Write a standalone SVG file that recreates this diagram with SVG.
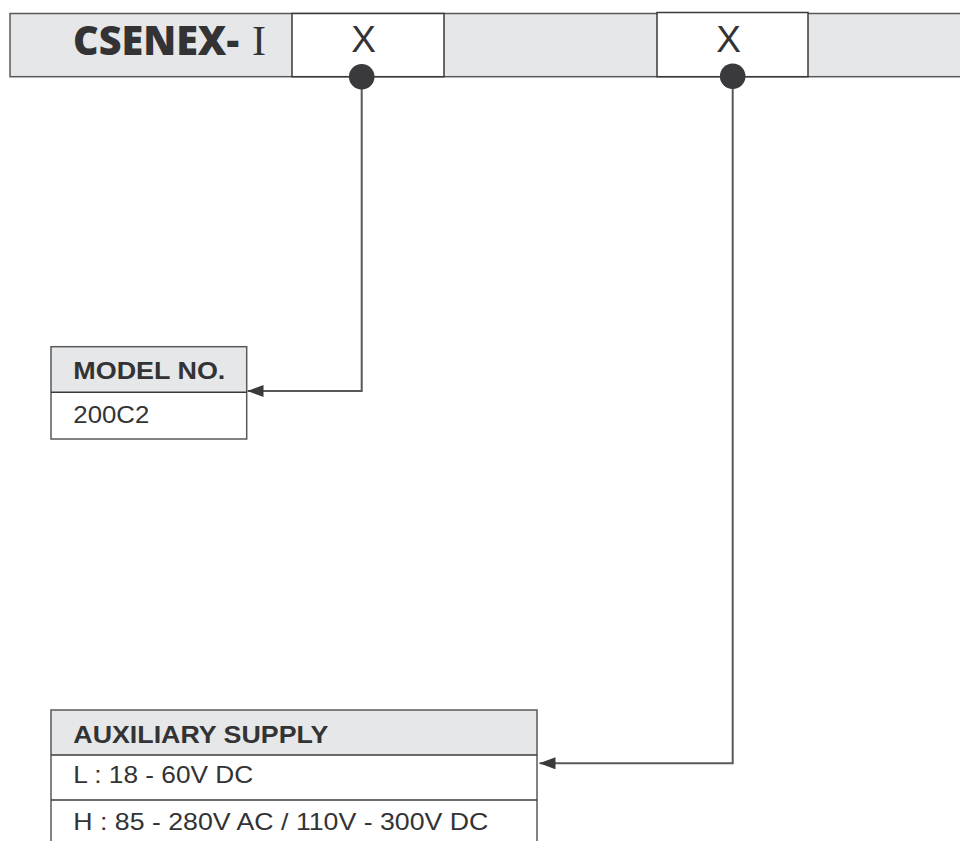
<svg xmlns="http://www.w3.org/2000/svg" width="960" height="841" viewBox="0 0 960 841">
  <style>
    .bar { fill: #e6e7e8; stroke: #58595b; stroke-width: 1.5; }
    .white { fill: #ffffff; stroke: #3a3a3c; stroke-width: 1.5; }
    .hdr { fill: #e6e7e8; }
    .frame { fill: none; stroke: #58595b; stroke-width: 1.5; }
    .div { stroke: #3a3a3c; stroke-width: 1.5; }
    .conn { fill: none; stroke: #58595b; stroke-width: 2; }
    .dot { fill: #3a3a3c; }
    .t { font-family: "Liberation Sans", Arial, sans-serif; fill: #333335; }
    .b { font-weight: bold; }
  </style>
  <defs>
    <marker id="arrow" viewBox="0 0 16 12" refX="16" refY="6" markerWidth="16" markerHeight="12" markerUnits="userSpaceOnUse" orient="auto">
      <path d="M0,0 L16,6 L0,12 z" fill="#3a3a3c"/>
    </marker>
  </defs>

  <g id="code-bar">
    <rect class="bar" x="10" y="13.5" width="960" height="63.2"/>
    <text x="73" y="55" font-family="'Open Sans', 'DejaVu Sans', sans-serif" font-weight="800" font-size="40" fill="#333335" textLength="166" lengthAdjust="spacingAndGlyphs">CSENEX-</text>
    <text x="252" y="55" font-family="'Liberation Serif', serif" font-size="42" fill="#333335">I</text>
  </g>

  <g id="slot-1">
    <rect class="white" x="292" y="13.5" width="152" height="63.2"/>
    <text class="t" x="363.5" y="51.7" font-size="37" text-anchor="middle">X</text>
  </g>

  <g id="slot-2">
    <rect class="white" x="657" y="12.5" width="151" height="64.2"/>
    <text class="t" x="728.5" y="51.7" font-size="37" text-anchor="middle">X</text>
  </g>

  <g id="connectors">
    <path class="conn" d="M361.7,80 V391 H247.5" marker-end="url(#arrow)"/>
    <path class="conn" d="M732.7,80 V763.3 H539.5" marker-end="url(#arrow)"/>
    <circle class="dot" cx="361.7" cy="76.7" r="12.8"/>
    <circle class="dot" cx="732.7" cy="76.2" r="12.8"/>
  </g>

  <g id="model-no">
    <rect class="hdr" x="51" y="346.7" width="195.7" height="45.6"/>
    <rect class="frame" x="51" y="346.7" width="195.7" height="92.3"/>
    <line class="div" x1="51" y1="392.3" x2="246.7" y2="392.3"/>
    <text class="t b" x="73.3" y="379.3" font-size="24" textLength="152" lengthAdjust="spacingAndGlyphs">MODEL NO.</text>
    <text class="t" x="73.3" y="423.3" font-size="24" textLength="76" lengthAdjust="spacingAndGlyphs">200C2</text>
  </g>

  <g id="auxiliary-supply">
    <rect class="hdr" x="51" y="710" width="486" height="45"/>
    <path class="frame" d="M51,845 V710 H537 V845"/>
    <line class="div" x1="51" y1="755" x2="537" y2="755"/>
    <line class="div" x1="51" y1="800" x2="537" y2="800"/>
    <text class="t b" x="73.3" y="742.5" font-size="24" textLength="255" lengthAdjust="spacingAndGlyphs">AUXILIARY SUPPLY</text>
    <text class="t" x="73.3" y="782.7" font-size="24" textLength="180" lengthAdjust="spacingAndGlyphs">L : 18 - 60V DC</text>
    <text class="t" x="73.3" y="830" font-size="24" textLength="415" lengthAdjust="spacingAndGlyphs">H : 85 - 280V AC / 110V - 300V DC</text>
  </g>
</svg>
